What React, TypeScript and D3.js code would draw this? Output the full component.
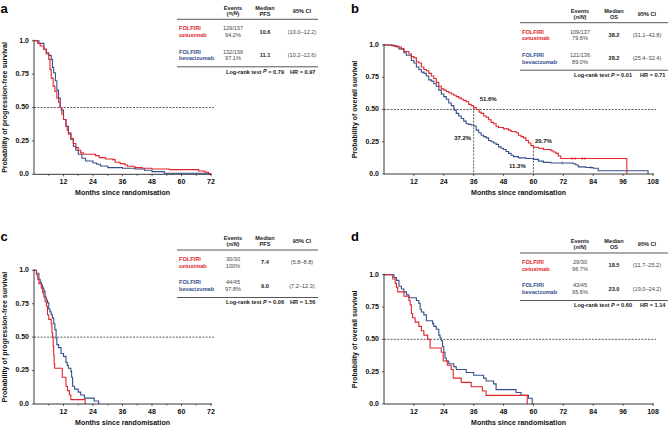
import React from "react";
import * as d3 from "d3";

const RED = "#e2252b";
const BLUE = "#34508c";
const FONT = "'Liberation Sans', Arial, Helvetica, sans-serif";

// ---------- Panel a: PFS, all patients ----------
const aCetuxT = [0, 1.5, 2.5, 4, 5, 6, 6.5, 7, 7.8, 8.5, 9.3, 10, 10.6, 11.3, 12, 13, 13.5, 14, 15, 16, 17, 18, 19, 20, 25, 26.5, 29, 32, 33, 35, 37, 38, 41, 44, 48, 55, 67, 69.5, 71, 72];
const aCetuxS = [1, 0.98, 0.96, 0.935, 0.9, 0.86, 0.785, 0.72, 0.66, 0.62, 0.57, 0.54, 0.5, 0.45, 0.41, 0.36, 0.33, 0.3, 0.27, 0.23, 0.2, 0.18, 0.16, 0.15, 0.14, 0.125, 0.115, 0.11, 0.09, 0.08, 0.07, 0.06, 0.05, 0.045, 0.04, 0.035, 0.025, 0.015, 0.005, 0.005];
const aBevT = [0, 2, 4, 5, 6, 7, 7.5, 8, 8.7, 9.3, 10, 10.7, 11.1, 12, 13, 14, 15, 16, 17, 18, 19.5, 21, 24, 25.5, 27, 30, 36, 41, 45, 48, 53, 71];
const aBevS = [1, 0.98, 0.935, 0.91, 0.89, 0.86, 0.8, 0.76, 0.7, 0.63, 0.57, 0.5, 0.48, 0.41, 0.36, 0.31, 0.26, 0.21, 0.18, 0.15, 0.12, 0.1, 0.085, 0.075, 0.062, 0.05, 0.045, 0.04, 0.03, 0.02, 0.008, 0.008];

// ---------- Panel b: OS, all patients ----------
const bCetuxT = [0, 3, 5, 7, 8, 10, 11, 12, 13, 14, 15, 16, 17, 18, 19, 20, 21, 22, 23, 24, 25, 26, 27, 28, 29, 30, 31, 32, 33, 34, 35, 36, 37, 38.2, 39, 40, 41, 42, 43, 44, 45, 46, 48, 50, 51, 53, 54, 55, 56, 57, 58, 59, 60, 62, 64, 67, 68, 69, 70, 71, 97.5];
const bCetuxS = [1, 0.995, 0.985, 0.97, 0.95, 0.93, 0.91, 0.9, 0.87, 0.86, 0.83, 0.81, 0.8, 0.78, 0.76, 0.74, 0.71, 0.68, 0.66, 0.65, 0.64, 0.63, 0.62, 0.61, 0.6, 0.59, 0.58, 0.57, 0.56, 0.54, 0.53, 0.516, 0.5, 0.48, 0.47, 0.45, 0.44, 0.42, 0.4, 0.39, 0.37, 0.36, 0.35, 0.34, 0.33, 0.32, 0.3, 0.29, 0.28, 0.26, 0.24, 0.22, 0.207, 0.2, 0.19, 0.18, 0.17, 0.16, 0.14, 0.12, 0];
const bBevT = [0, 4, 6, 8, 9, 11, 12, 13, 14, 15, 16, 17, 18, 19, 20, 21, 22, 23, 24, 25, 26, 27, 28, 28.2, 29, 30, 31, 32, 33, 34, 35, 36, 37, 38, 39, 40, 41, 42, 43, 44, 45, 46, 47, 48, 49, 50, 51, 52, 54, 57, 60, 62, 64, 67, 76, 77, 78, 81, 84, 86, 106];
const bBevS = [1, 0.99, 0.97, 0.94, 0.92, 0.88, 0.86, 0.83, 0.81, 0.79, 0.78, 0.76, 0.73, 0.72, 0.7, 0.68, 0.65, 0.62, 0.6, 0.58, 0.55, 0.53, 0.51, 0.495, 0.47, 0.45, 0.43, 0.41, 0.39, 0.385, 0.38, 0.372, 0.34, 0.32, 0.3, 0.29, 0.28, 0.26, 0.25, 0.24, 0.23, 0.21, 0.2, 0.19, 0.175, 0.16, 0.145, 0.135, 0.125, 0.12, 0.113, 0.1, 0.09, 0.085, 0.08, 0.07, 0.055, 0.05, 0.045, 0.025, 0];
const bCetuxCensor = [75.4, 76.7, 79.6, 80.7];
const bBevCensor = [71.6, 83];

// ---------- Panel c: PFS, subgroup ----------
const cCetuxT = [0, 1, 1.5, 2, 3, 3.5, 4, 4.5, 5, 5.5, 6, 7, 7.3, 7.6, 7.8, 8, 8.2, 8.4, 11.5, 13, 13.6, 14.4, 15, 20.8];
const cCetuxS = [1, 0.967, 0.933, 0.9, 0.867, 0.833, 0.8, 0.767, 0.733, 0.667, 0.633, 0.6, 0.533, 0.5, 0.433, 0.367, 0.3, 0.267, 0.2, 0.133, 0.1, 0.067, 0.033, 0];
const cBevT = [0, 1, 2, 2.5, 3, 3.5, 4, 4.5, 5, 5.5, 6, 6.5, 7, 7.5, 8, 8.5, 9, 9.3, 10, 11, 12, 13, 13.5, 14, 15, 15.3, 15.7, 16.5, 18, 19, 20.5, 24.5, 26.3];
const cBevS = [1, 0.978, 0.933, 0.911, 0.889, 0.867, 0.844, 0.8, 0.778, 0.756, 0.711, 0.689, 0.667, 0.644, 0.6, 0.556, 0.489, 0.444, 0.422, 0.378, 0.356, 0.311, 0.289, 0.267, 0.244, 0.2, 0.133, 0.111, 0.089, 0.067, 0.044, 0.022, 0];

// ---------- Panel d: OS, subgroup ----------
const dCetuxT = [0, 3.5, 4.5, 5, 5.5, 8, 10, 10.5, 11, 11.5, 12.5, 14, 15, 16, 17.5, 18.5, 23, 23.8, 25.4, 27, 27.8, 31, 35, 39.5, 41, 57.5];
const dCetuxS = [1, 0.967, 0.933, 0.9, 0.867, 0.833, 0.8, 0.767, 0.7, 0.667, 0.633, 0.6, 0.567, 0.533, 0.5, 0.433, 0.4, 0.333, 0.3, 0.267, 0.2, 0.167, 0.133, 0.1, 0.067, 0];
const dBevT = [0, 4, 5, 6, 7, 8, 9, 10, 13, 14, 14.5, 15, 16, 17, 19.5, 20, 21, 22, 22.5, 23, 23.5, 24, 24.5, 25, 26, 28, 29, 33, 36, 40, 41, 44, 45, 53, 55, 58, 59.5];
const dBevS = [1, 0.978, 0.956, 0.911, 0.889, 0.867, 0.844, 0.822, 0.8, 0.778, 0.733, 0.711, 0.689, 0.644, 0.622, 0.6, 0.578, 0.533, 0.511, 0.489, 0.444, 0.4, 0.356, 0.333, 0.311, 0.289, 0.267, 0.244, 0.222, 0.2, 0.178, 0.156, 0.111, 0.089, 0.067, 0.044, 0];

// ---------- axes ----------
const pfsTicks = [12, 24, 36, 48, 60, 72];
const pfsMinor = [6, 18, 30, 42, 54, 66];
const osTicks = [12, 24, 36, 48, 60, 72, 84, 96, 108];
const yTicks = [0, 0.25, 0.5, 0.75, 1];
const yTickLabels = ["0.0", "0.25", "0.50", "0.75", "1.0"];

// ---------- tables ----------
const armNames = [["FOLFIRI", "cetuximab"], ["FOLFIRI", "bevacizumab"]];
const aEvents = [["129/137", "94.2%"], ["132/136", "97.1%"]];
const aMedian = ["10.6", "11.1"];
const aCI = ["(10.0–12.2)", "(10.2–12.6)"];
const bEvents = [["109/137", "79.6%"], ["121/136", "89.0%"]];
const bMedian = ["38.2", "28.2"];
const bCI = ["(31.1–42.8)", "(25.4–32.4)"];
const cEvents = [["30/30", "100%"], ["44/45", "97.8%"]];
const cMedian = ["7.4", "9.0"];
const cCI = ["(5.8–8.8)", "(7.2–12.3)"];
const dEvents = [["29/30", "96.7%"], ["43/45", "95.6%"]];
const dMedian = ["18.5", "23.0"];
const dCI = ["(11.7–25.2)", "(19.0–24.2)"];
const logrankP = ["0.79", "0.01", "0.06", "0.60"];
const hazardRatio = ["0.97", "0.71", "1.56", "1.14"];

// panel b landmark annotations
const bLandmarks = [36, 60];
const bLandmarkLabels = [["51.6%", "37.2%"], ["20.7%", "11.3%"]];
const bLandmarkVals = [[0.516, 0.372], [0.207, 0.113]];

type Curve = { t: number[]; s: number[]; color: string; censor?: number[] };

function Table(props: {
  left: number; top: number; right: number; cols: number[]; stat: string;
  events: string[][]; median: string[]; ci: string[]; p: string; hr: string; lrX: number; hrX: number;
}) {
  const { left, top, right, cols, stat, events, median, ci, p, hr, lrX, hrX } = props;
  const fs = 5.6;
  const rowY = [top + 9.5, top + 33];
  const colors = [RED, BLUE];
  return (
    <g fontFamily={FONT} fontSize={fs}>
      <text x={left + cols[0]} y={top - 11} textAnchor="middle" dominantBaseline="middle" fontWeight="bold" fill="#222">Events</text>
      <text x={left + cols[0]} y={top - 5} textAnchor="middle" dominantBaseline="middle" fontWeight="bold" fill="#222">(<tspan fontStyle="italic">n</tspan>/<tspan fontStyle="italic">N</tspan>)</text>
      <text x={left + cols[1]} y={top - 11} textAnchor="middle" dominantBaseline="middle" fontWeight="bold" fill="#222">Median</text>
      <text x={left + cols[1]} y={top - 5} textAnchor="middle" dominantBaseline="middle" fontWeight="bold" fill="#222">{stat}</text>
      <text x={left + cols[2]} y={top - 8} textAnchor="middle" dominantBaseline="middle" fontWeight="bold" fill="#222">95% CI</text>
      <line x1={left} x2={right} y1={top} y2={top} stroke="#444" strokeWidth={0.9} />
      {rowY.map((ry, i) => (
        <g key={i}>
          <text x={left + 2} y={ry} dominantBaseline="middle" fill={colors[i]} fontWeight="bold">{armNames[i][0]}</text>
          <text x={left + 2} y={ry + 6.7} dominantBaseline="middle" fill={colors[i]} fontWeight="bold">{armNames[i][1]}</text>
          <text x={left + cols[0]} y={ry} textAnchor="middle" dominantBaseline="middle" fill="#444">{events[i][0]}</text>
          <text x={left + cols[0]} y={ry + 6.7} textAnchor="middle" dominantBaseline="middle" fill="#444">{events[i][1]}</text>
          <text x={left + cols[1]} y={ry + 3.3} textAnchor="middle" dominantBaseline="middle" fill="#222" fontWeight="bold">{median[i]}</text>
          <text x={left + cols[2]} y={ry + 3.3} textAnchor="middle" dominantBaseline="middle" fill="#444">{ci[i]}</text>
        </g>
      ))}
      <line x1={left} x2={right} y1={top + 47.5} y2={top + 47.5} stroke="#444" strokeWidth={0.9} />
      <text x={left + lrX} y={top + 53} dominantBaseline="middle" fontWeight="bold" fill="#222">Log-rank test <tspan fontStyle="italic">P</tspan> = {p}</text>
      <text x={left + hrX} y={top + 53} dominantBaseline="middle" fontWeight="bold" fill="#222">HR = {hr}</text>
    </g>
  );
}

function Panel(props: {
  letter: string; letterX: number; letterY: number;
  x0: number; x1: number; yTop: number; yBot: number; xMax: number;
  ticks: number[]; minor: number[]; yTitle: string; curves: Curve[];
  children?: any; annotate?: boolean;
}) {
  const { letter, letterX, letterY, x0, x1, yTop, yBot, xMax, ticks, minor, yTitle, curves, annotate } = props;
  const x = d3.scaleLinear().domain([0, xMax]).range([x0, x1]);
  const y = d3.scaleLinear().domain([0, 1]).range([yBot, yTop]);
  const line = d3.line<[number, number]>().x((d) => x(d[0])).y((d) => y(d[1])).curve(d3.curveStepAfter);
  return (
    <g fontFamily={FONT}>
      <text x={letterX} y={letterY} fontSize={13} fontWeight="bold" fill="#000">{letter}</text>
      {/* reference line at 0.5 */}
      <line x1={x0} x2={x1 + 3} y1={y(0.5)} y2={y(0.5)} stroke="#333" strokeWidth={0.8} strokeDasharray="2,1.3" />
      {annotate &&
        bLandmarks.map((m, i) => (
          <line key={m} x1={x(m)} x2={x(m)} y1={y(bLandmarkVals[i][0])} y2={yBot} stroke="#333" strokeWidth={0.8} strokeDasharray="2,1.3" />
        ))}
      {curves.map((c, i) => {
        const pts: [number, number][] = c.t.map((tt, j) => [tt, c.s[j]]);
        return <path key={i} d={line(pts) || ""} fill="none" stroke={c.color} strokeWidth={1.1} />;
      })}
      {curves.map((c, i) =>
        (c.censor || []).map((ct, j) => {
          const idx = d3.bisectRight(c.t, ct) - 1;
          const sv = c.s[Math.max(0, idx)];
          return <line key={`${i}-${j}`} x1={x(ct)} x2={x(ct)} y1={y(sv) - 1.5} y2={y(sv) + 1.5} stroke={c.color} strokeWidth={0.7} />;
        })
      )}
      {/* axes */}
      <line x1={x0} x2={x0} y1={yTop - 1} y2={yBot} stroke="#222" strokeWidth={0.9} />
      <line x1={x0} x2={x1 + 1} y1={yBot} y2={yBot} stroke="#222" strokeWidth={0.9} />
      {yTicks.map((v, i) => (
        <g key={v}>
          <line x1={x0 - 2} x2={x0} y1={y(v)} y2={y(v)} stroke="#222" strokeWidth={0.7} />
          <text x={x0 - 5} y={y(v)} textAnchor="end" dominantBaseline="middle" fontSize={7} fontWeight="bold" fill="#111">{yTickLabels[i]}</text>
        </g>
      ))}
      {minor.map((v) => (
        <line key={"m" + v} x1={x(v)} x2={x(v)} y1={yBot} y2={yBot + 1.5} stroke="#222" strokeWidth={0.7} />
      ))}
      {ticks.map((v) => (
        <g key={v}>
          <line x1={x(v)} x2={x(v)} y1={yBot} y2={yBot + 2} stroke="#222" strokeWidth={0.7} />
          <text x={x(v)} y={yBot + 8} textAnchor="middle" dominantBaseline="middle" fontSize={7} fontWeight="bold" fill="#111">{v}</text>
        </g>
      ))}
      <text x={(x0 + x1) / 2} y={yBot + 19} textAnchor="middle" dominantBaseline="middle" fontSize={7} fontWeight="bold" fill="#111">Months since randomisation</text>
      <text transform={`translate(${x0 - 29},${(yTop + yBot) / 2}) rotate(-90)`} textAnchor="middle" dominantBaseline="middle" fontSize={7} fontWeight="bold" fill="#111">{yTitle}</text>
      {annotate && (
        <g fontSize={6} fontWeight="bold" fill="#111">
          <text x={x(bLandmarks[0]) + 14.5} y={y(bLandmarkVals[0][0]) - 8.5} textAnchor="middle" dominantBaseline="middle">{bLandmarkLabels[0][0]}</text>
          <text x={x(bLandmarks[0]) - 11} y={y(bLandmarkVals[0][1]) + 12} textAnchor="middle" dominantBaseline="middle">{bLandmarkLabels[0][1]}</text>
          <text x={x(bLandmarks[1]) + 10} y={y(bLandmarkVals[1][0]) - 6} textAnchor="middle" dominantBaseline="middle">{bLandmarkLabels[1][0]}</text>
          <text x={x(bLandmarks[1]) - 16} y={y(bLandmarkVals[1][1]) + 6.5} textAnchor="middle" dominantBaseline="middle">{bLandmarkLabels[1][1]}</text>
        </g>
      )}
      {props.children}
    </g>
  );
}

export default function App() {
  const pfsTitle = "Probability of progression-free survival";
  const osTitle = "Probability of overall survival";
  const colsL = [56, 88, 125];
  const colsR = [60, 94, 127];
  return (
    <svg width={670} height={426} style={{ position: "absolute", left: 0, top: 0, background: "#fff" }}>
      <rect width={670} height={426} fill="#fff" />
      <Panel letter="a" letterX={0.5} letterY={12.5} x0={34} x1={211} yTop={40.7} yBot={174.3} xMax={72}
        ticks={pfsTicks} minor={pfsMinor} yTitle={pfsTitle}
        curves={[{ t: aBevT, s: aBevS, color: BLUE }, { t: aCetuxT, s: aCetuxS, color: RED }]}>
        <Table left={177} top={19.3} right={318} cols={colsL} stat="PFS" events={aEvents} median={aMedian} ci={aCI} p={logrankP[0]} hr={hazardRatio[0]} lrX={49} hrX={113} />
      </Panel>
      <Panel letter="b" letterX={351} letterY={12.5} x0={384} x1={653} yTop={45} yBot={174} xMax={108}
        ticks={osTicks} minor={[]} yTitle={osTitle} annotate
        curves={[{ t: bBevT, s: bBevS, color: BLUE, censor: bBevCensor }, { t: bCetuxT, s: bCetuxS, color: RED, censor: bCetuxCensor }]}>
        <Table left={520} top={22.7} right={668} cols={colsR} stat="OS" events={bEvents} median={bMedian} ci={bCI} p={logrankP[1]} hr={hazardRatio[1]} lrX={54} hrX={120} />
      </Panel>
      <Panel letter="c" letterX={0.5} letterY={241} x0={34} x1={211} yTop={270.3} yBot={404} xMax={72}
        ticks={pfsTicks} minor={pfsMinor} yTitle={pfsTitle}
        curves={[{ t: cBevT, s: cBevS, color: BLUE }, { t: cCetuxT, s: cCetuxS, color: RED }]}>
        <Table left={177} top={250} right={318} cols={colsL} stat="PFS" events={cEvents} median={cMedian} ci={cCI} p={logrankP[2]} hr={hazardRatio[2]} lrX={49} hrX={113} />
      </Panel>
      <Panel letter="d" letterX={351} letterY={241} x0={384} x1={653} yTop={274.7} yBot={404} xMax={108}
        ticks={osTicks} minor={[]} yTitle={osTitle}
        curves={[{ t: dBevT, s: dBevS, color: BLUE }, { t: dCetuxT, s: dCetuxS, color: RED }]}>
        <Table left={520} top={253} right={668} cols={colsR} stat="OS" events={dEvents} median={dMedian} ci={dCI} p={logrankP[3]} hr={hazardRatio[3]} lrX={54} hrX={120} />
      </Panel>
    </svg>
  );
}
